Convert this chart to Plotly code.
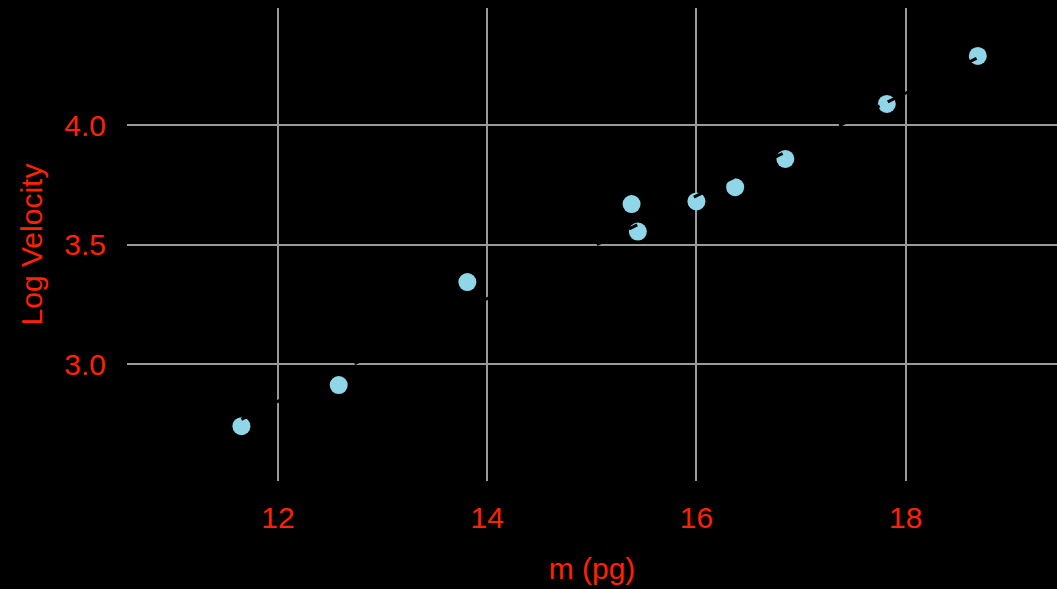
import numpy as np
import plotly.graph_objects as go

mass_pg = [11.65, 12.58, 13.81, 15.38, 15.44, 16.00, 16.37, 16.85, 17.82, 18.69]
log_velocity = [2.74, 2.912, 3.343, 3.669, 3.554, 3.68, 3.74, 3.858, 4.088, 4.289]
x_ticks = [12, 14, 16, 18]
y_ticks = [3.0, 3.5, 4.0]
y_tick_labels = ["3.0", "3.5", "4.0"]

slope, intercept = np.polyfit(mass_pg, log_velocity, 1)
fit_x = [min(mass_pg), max(mass_pg)]
fit_y = [intercept + slope * v for v in fit_x]

RED = "#FF2200"
fig = go.Figure()
fig.add_trace(go.Scatter(x=mass_pg, y=log_velocity, mode="markers",
                         marker=dict(color="#8FD7E8", size=18, line=dict(width=0)),
                         showlegend=False))
fig.add_trace(go.Scatter(x=fit_x, y=fit_y, mode="lines",
                         line=dict(color="black", width=3, dash="dash"),
                         showlegend=False))

fig.update_layout(
    width=1057, height=589,
    paper_bgcolor="black", plot_bgcolor="black",
    margin=dict(l=127, r=0, t=8, b=108),
    font=dict(family="Liberation Sans, Arial, Helvetica, sans-serif", size=30, color=RED),
)
fig.update_xaxes(range=[10.556, 19.447], tickvals=x_ticks, showgrid=True,
                 gridcolor="#9A9A9A", gridwidth=2, zeroline=False, showline=False,
                 ticks="outside", ticklen=10, tickcolor="black",
                 tickfont=dict(size=30, color=RED),
                 title=dict(text="m (pg)", font=dict(size=30, color=RED), standoff=24))
fig.update_yaxes(range=[2.5105, 4.4895], tickvals=y_ticks, ticktext=y_tick_labels,
                 showgrid=True, gridcolor="#9A9A9A", gridwidth=2, zeroline=False,
                 showline=False, ticks="outside", ticklen=14, tickcolor="black",
                 tickfont=dict(size=30, color=RED),
                 title=dict(text="Log Velocity", font=dict(size=30, color=RED), standoff=12))

fig.write_html("out.html", config={"displayModeBar": False},
               post_script="document.body.style.margin='0';document.body.style.background='black';")
